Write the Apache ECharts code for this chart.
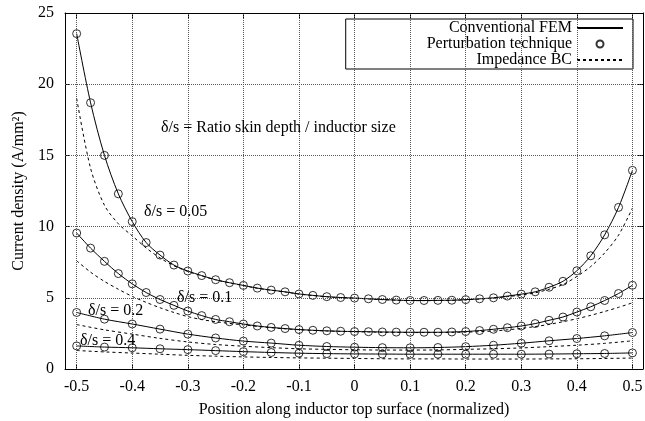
<!DOCTYPE html>
<html>
<head>
<meta charset="utf-8">
<script src="https://cdn.jsdelivr.net/npm/echarts@6/dist/echarts.min.js"></script>
<style>
  html, body { margin: 0; padding: 0; background: #fff; }
  #chart { width: 645px; height: 421px; }
</style>
</head>
<body>
<div id="chart"></div>
<script>
// positions along the surface
const xFine = [-0.5, -0.475, -0.45, -0.425, -0.4, -0.375, -0.35, -0.325, -0.3, -0.275,
  -0.25, -0.225, -0.2, -0.175, -0.15, -0.125, -0.1, -0.075, -0.05, -0.025,
  0, 0.025, 0.05, 0.075, 0.1, 0.125, 0.15, 0.175, 0.2, 0.225,
  0.25, 0.275, 0.3, 0.325, 0.35, 0.375, 0.4, 0.425, 0.45, 0.475, 0.5];
const xCoarse = [-0.5, -0.45, -0.4, -0.35, -0.3, -0.25, -0.2, -0.15, -0.1, -0.05,
  0, 0.05, 0.1, 0.15, 0.2, 0.25, 0.3, 0.35, 0.4, 0.45, 0.5];

// delta/s = 0.05
const fem005 = [23.55, 18.7, 15.0, 12.3, 10.35, 8.88, 8.0, 7.3, 6.88, 6.56,
  6.27, 6.06, 5.87, 5.68, 5.54, 5.42, 5.27, 5.17, 5.08, 5.02,
  4.98, 4.93, 4.88, 4.84, 4.81, 4.81, 4.82, 4.83, 4.87, 4.93,
  5.0, 5.12, 5.26, 5.42, 5.74, 6.16, 6.9, 7.95, 9.42, 11.35, 13.95];
const ibc005 = [19.0, 14.1, 11.5, 10.2, 9.35, 8.5, 7.8, 7.25, 6.85, 6.54,
  6.26, 6.05, 5.86, 5.67, 5.53, 5.41, 5.26, 5.16, 5.07, 5.01,
  4.97, 4.92, 4.87, 4.83, 4.8, 4.8, 4.81, 4.82, 4.86, 4.91,
  4.98, 5.08, 5.2, 5.35, 5.6, 5.93, 6.5, 7.2, 8.15, 9.4, 11.3];

// delta/s = 0.1
const fem01 = [9.55, 8.49, 7.56, 6.7, 5.98, 5.37, 4.88, 4.47, 4.07, 3.75,
  3.48, 3.32, 3.16, 3.02, 2.92, 2.84, 2.77, 2.72, 2.68, 2.65,
  2.63, 2.62, 2.6, 2.59, 2.58, 2.58, 2.58, 2.6, 2.63, 2.7,
  2.79, 2.9, 3.02, 3.19, 3.42, 3.65, 4.0, 4.37, 4.81, 5.3, 5.88];
const ibc01 = [7.6, 6.8, 6.15, 5.6, 5.1, 4.68, 4.3, 3.97, 3.68, 3.47,
  3.32, 3.2, 3.1, 2.99, 2.9, 2.82, 2.76, 2.71, 2.67, 2.64,
  2.62, 2.6, 2.58, 2.57, 2.56, 2.56, 2.56, 2.57, 2.59, 2.62,
  2.67, 2.75, 2.85, 2.98, 3.13, 3.32, 3.53, 3.77, 4.04, 4.33, 4.65];

// delta/s = 0.2
const fem02 = [3.97, 3.5, 3.16, 2.8, 2.45, 2.18, 1.96, 1.82, 1.67, 1.58,
  1.53, 1.5, 1.49, 1.51, 1.57, 1.67, 1.81, 1.98, 2.14, 2.33, 2.56];
const ibc02 = [3.12, 2.75, 2.45, 2.15, 1.9, 1.72, 1.6, 1.5, 1.42, 1.38,
  1.35, 1.33, 1.33, 1.34, 1.38, 1.42, 1.48, 1.57, 1.67, 1.8, 1.98];

// delta/s = 0.4
const fem04 = [1.62, 1.54, 1.49, 1.42, 1.36, 1.29, 1.22, 1.16, 1.11, 1.08,
  1.06, 1.05, 1.04, 1.04, 1.04, 1.04, 1.04, 1.05, 1.07, 1.09, 1.13];
const ibc04 = [1.3, 1.2, 1.12, 1.04, 0.96, 0.9, 0.85, 0.81, 0.78, 0.76,
  0.74, 0.72, 0.71, 0.71, 0.7, 0.7, 0.7, 0.71, 0.72, 0.74, 0.77];

const xTicks = [-0.5, -0.4, -0.3, -0.2, -0.1, 0, 0.1, 0.2, 0.3, 0.4, 0.5];
const yGrid = [5, 10, 15, 20];

const FONT = 'Liberation Serif';

function zip(xs, ys) {
  return xs.map((x, i) => [x, ys[i]]);
}

function femSeries(xs, ys) {
  return {
    name: 'Conventional FEM', type: 'line', data: zip(xs, ys),
    smooth: 0.3, symbol: 'none', lineStyle: { color: '#000', width: 1 },
    itemStyle: { color: 'rgba(0,0,0,0)', borderWidth: 0 }, z: 3
  };
}
function ptSeries(xs, ys) {
  return {
    name: 'Perturbation technique', type: 'scatter', data: zip(xs, ys),
    symbol: 'circle', symbolSize: 8,
    itemStyle: { color: 'rgba(0,0,0,0)', borderColor: '#000', borderWidth: 1 }, z: 4
  };
}
function ibcSeries(xs, ys) {
  return {
    name: 'Impedance BC', type: 'line', data: zip(xs, ys),
    smooth: 0.3, symbol: 'none', lineStyle: { color: '#000', width: 1, type: [3, 3] },
    itemStyle: { color: 'rgba(0,0,0,0)', borderWidth: 0 }, z: 2
  };
}

const chart = echarts.init(document.getElementById('chart'));

const xBase = {
  type: 'value', min: -0.521, max: 0.519,
  axisLine: { show: true, onZero: false, lineStyle: { color: '#000', width: 1 } },
  axisTick: { show: true, inside: true, length: 5, customValues: xTicks, lineStyle: { color: '#000' } },
  splitLine: { show: false }
};
const yBase = {
  type: 'value', min: 0, max: 25, interval: 5,
  axisLine: { show: true, onZero: false, lineStyle: { color: '#000', width: 1 } },
  axisTick: { show: true, inside: true, length: 5, lineStyle: { color: '#000' } },
  splitLine: { show: false }
};

const labels = [
  { text: 'δ/s = Ratio skin depth / inductor size', x: 161, y: 128 },
  { text: 'δ/s = 0.05', x: 144, y: 212 },
  { text: 'δ/s = 0.1', x: 177, y: 298 },
  { text: 'δ/s = 0.2', x: 88, y: 311 },
  { text: 'δ/s = 0.4', x: 80, y: 341 }
];

chart.setOption({
  animation: false,
  backgroundColor: '#fff',
  textStyle: { fontFamily: FONT },
  grid: { left: 65, right: 2, top: 13, bottom: 52, outerBoundsMode: 'none', containLabel: false },
  legend: {
    orient: 'vertical', align: 'right', right: 12, top: 19,
    itemWidth: 46, itemHeight: 7, itemGap: 0,
    padding: [1, 9, 1, 81],
    borderColor: '#000', borderWidth: 1, backgroundColor: '#fff',
    textStyle: { fontFamily: FONT, fontSize: 16, color: '#000', lineHeight: 16 },
    data: ['Conventional FEM', 'Perturbation technique', 'Impedance BC']
  },
  xAxis: [
    Object.assign({}, xBase, {
      position: 'bottom',
      axisLabel: { customValues: xTicks, color: '#000', fontSize: 16, fontFamily: FONT, margin: 10 },
      name: 'Position along inductor top surface (normalized)',
      nameLocation: 'middle', nameGap: 33,
      nameTextStyle: { color: '#000', fontSize: 16, fontFamily: FONT }
    }),
    Object.assign({}, xBase, {
      position: 'top', axisLabel: { show: false }
    })
  ],
  yAxis: [
    Object.assign({}, yBase, {
      position: 'left',
      axisLabel: { color: '#000', fontSize: 16, fontFamily: FONT, margin: 11 },
      name: 'Current density (A/mm²)',
      nameLocation: 'middle', nameGap: 34,
      nameTextStyle: { color: '#000', fontSize: 16, fontFamily: FONT }
    }),
    Object.assign({}, yBase, {
      position: 'right', axisLabel: { show: false }
    })
  ],
  graphic: labels.map(l => ({
    type: 'text', x: l.x, y: l.y, z: 10,
    style: { text: l.text, fill: '#000', font: '16px "Liberation Serif"', verticalAlign: 'middle' }
  })),
  series: [
    {
      // dotted grid at the tick positions
      type: 'line', data: [], silent: true, z: 1,
      markLine: {
        silent: true, animation: false, symbol: ['none', 'none'],
        label: { show: false },
        lineStyle: { color: '#555', type: 'dotted', width: 1 },
        emphasis: { disabled: true },
        data: xTicks.map(v => ({ xAxis: v })).concat(yGrid.map(v => ({ yAxis: v })))
      }
    },
    femSeries(xFine, fem005), ptSeries(xFine, fem005), ibcSeries(xFine, ibc005),
    femSeries(xFine, fem01), ptSeries(xFine, fem01), ibcSeries(xFine, ibc01),
    femSeries(xCoarse, fem02), ptSeries(xCoarse, fem02), ibcSeries(xCoarse, ibc02),
    femSeries(xCoarse, fem04), ptSeries(xCoarse, fem04), ibcSeries(xCoarse, ibc04)
  ]
});
</script>
</body>
</html>
